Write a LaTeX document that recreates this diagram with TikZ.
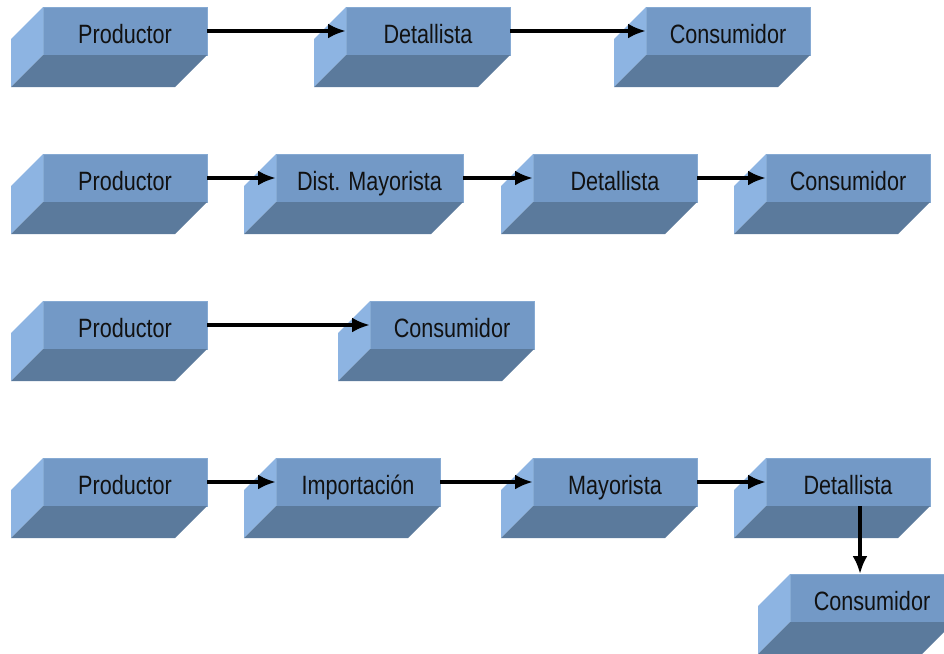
\documentclass[tikz,border=0pt]{standalone}
\usepackage{fontspec}
\setmainfont{Liberation Sans}[FakeStretch=0.815]
\usetikzlibrary{arrows.meta,calc}

\definecolor{faceTop}{HTML}{7399C6}
\definecolor{faceLeft}{HTML}{8DB4E2}
\definecolor{faceBottom}{HTML}{5B7A9C}
\definecolor{faceEdge}{HTML}{86AAD3}
\definecolor{labelInk}{HTML}{111111}

\tikzset{
  face/.style={fill=faceTop, draw=faceEdge, line width=1pt, minimum height=48pt,
    anchor=north west, inner sep=0pt, outer sep=0pt},
  facetext/.style={anchor=base, inner sep=0pt, text=labelInk,
    font=\fontsize{26.5}{26.5}\selectfont},
  leftside/.style={fill=faceLeft},
  bottomside/.style={fill=faceBottom},
  flow/.style={-{Latex[length=18pt,width=15pt]}, line width=3.8pt, black},
}

% a block seen from above-right: front face, left side and bottom side
\newcommand\stage[5]{%
  \node[face, minimum width=#4pt] (#1) at (#2,#3) {};
  \fill[leftside] (#1.north west) -- ++(-32,32) -- ++(0,48) -- (#1.south west) -- cycle;
  \fill[bottomside] (#1.south west) -- (#1.south east) -- ++(-32,32)
        -- ($(#1.south west)+(-32,32)$) -- cycle;
  \node[facetext] (#1-t) at ($(#1.north)+(0,36.3)$) {#5};
}

\begin{document}
\begin{tikzpicture}[x=1pt, y=-1pt]
\useasboundingbox (0,0) rectangle (944,653);

% first channel
\stage{p1}{43}{7}{164}{Productor}
\stage{d1}{346}{7}{164}{Detallista}
\stage{c1}{646}{7}{164}{Consumidor}
\draw[flow] (p1.east) -- (d1.west);
\draw[flow] (d1.east) -- (c1.west);

% second channel
\stage{p2}{43}{154}{164}{Productor}
\stage{m2}{276}{154}{187}{Dist. Mayorista}
\stage{d2}{533}{154}{164}{Detallista}
\stage{c2}{766}{154}{164}{Consumidor}
\draw[flow] (p2.east) -- (m2.west);
\draw[flow] (m2.east) -- (d2.west);
\draw[flow] (d2.east) -- (c2.west);

% direct channel
\stage{p3}{43}{301}{164}{Productor}
\stage{c3}{370}{301}{164}{Consumidor}
\draw[flow] (p3.east) -- (c3.west);

% import channel
\stage{p4}{43}{458}{164}{Productor}
\stage{i4}{276}{458}{164}{Importación}
\stage{m4}{533}{458}{164}{Mayorista}
\stage{d4}{766}{458}{164}{Detallista}
\stage{c5}{790}{574}{164}{Consumidor}
\draw[flow] (p4.east) -- (i4.west);
\draw[flow] (i4.east) -- (m4.west);
\draw[flow] (m4.east) -- (d4.west);
\draw[flow] ([xshift=12pt]d4.south) -- ([xshift=12pt]d4.south |- c5.north);
\end{tikzpicture}
\end{document}
